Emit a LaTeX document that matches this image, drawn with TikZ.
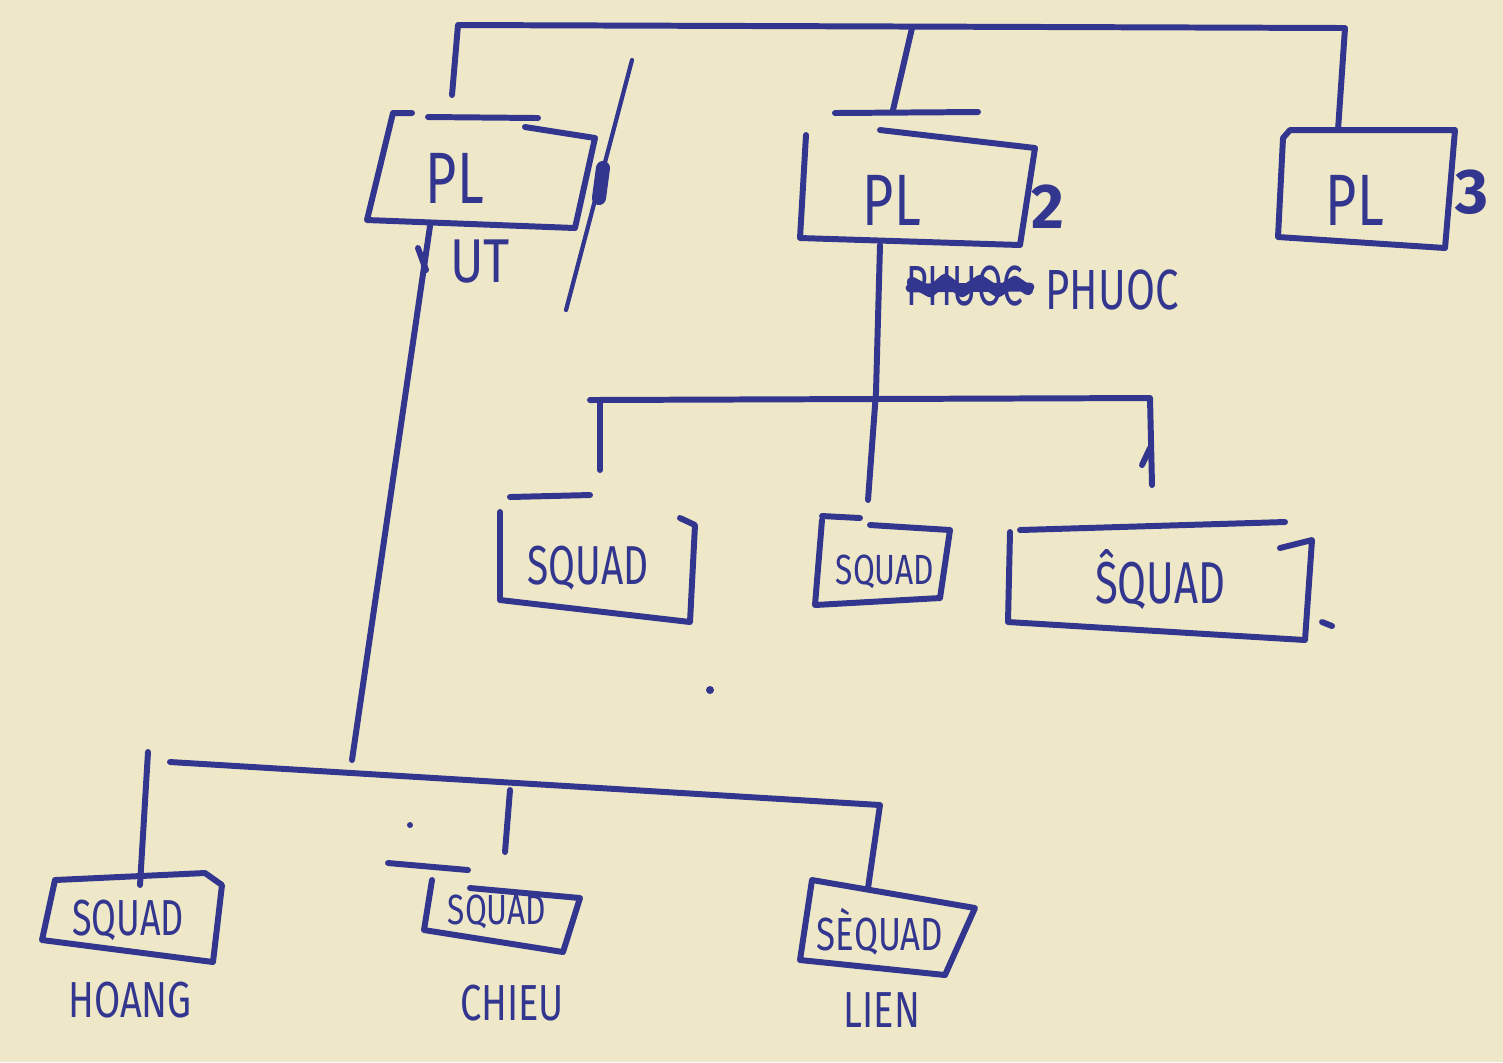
\documentclass[tikz,border=0pt]{standalone}
\usepackage{graphicx}
\usepackage{fontspec}
\setmainfont{Fira Sans}
\definecolor{paper}{HTML}{EFE8C8}
\definecolor{inkc}{HTML}{33368F}
\begin{document}
\begin{tikzpicture}[x=0.01cm,y=-0.01cm,
  ink/.style={draw=inkc,line width=1.7pt,line cap=round,line join=round},
  txt/.style={text=inkc,inner sep=0pt,font=\fontsize{#1}{#1}\selectfont},
  txt/.default=16]
\fill[paper] (0,0) rectangle (1503,1062);
\useasboundingbox (0,0) rectangle (1503,1062);

% ---------- top level ----------
\coordinate (tL) at (458,25);
\coordinate (tM) at (912,28);
\coordinate (tR) at (1345,28);
\coordinate (pl1top) at (452,95);
\coordinate (pl2top) at (893,110);
\coordinate (pl3top) at (1338,130);
\draw[ink] (pl1top) -- (tL) -- (tR) -- (pl3top);
\draw[ink] (tM) -- (pl2top);

% PL1
\draw[ink] (428,117) -- (538,118);
\draw[ink] (412,113) -- (393,113) -- (367,220) -- (575,228) -- (595,138) -- (525,127);
\node[txt=18] (pl1) at (455,178) {\scalebox{0.85}[1.15]{PL}};
\coordinate (diagA) at (632,60);
\coordinate (diagB) at (566,310);
\draw[ink,line width=1.2pt] (diagA) -- (diagB);
\draw[ink,line width=4pt] (603,168) -- (599,198);
\coordinate (pl1bot) at (430,226);
\coordinate (utbar) at (352,760);
\draw[ink] (pl1bot) -- (utbar);
\draw[ink] (418,248) -- (426,270);
\node[txt=16] (ut) at (480,262) {\scalebox{0.9}[1.1]{UT}};

% PL2
\draw[ink] (835,113) -- (978,112);
\draw[ink] (806,135) -- (800,238) -- (1020,245) -- (1035,148) -- (880,130);
\node[txt=18] (pl2) at (892,200) {\scalebox{0.85}[1.15]{PL}};
\node[txt=18] (n2) at (1048,207) {\textbf{2}};
\coordinate (pl2bot) at (880,245);
\coordinate (sqbar) at (876,392);
\draw[ink] (pl2bot) -- (sqbar);
\node[txt=14] (phuoc) at (1112,290) {\scalebox{0.85}[1.15]{PHUOC}};
\node[txt=14] (cross) at (965,286) {\scalebox{0.75}[1.15]{PHUOC}};
\draw[ink,line width=3pt] (912,282) -- (930,292) -- (945,279) -- (962,292) -- (980,280) -- (998,292) -- (1015,281) -- (1028,290);
\draw[ink,line width=2.5pt] (910,288) -- (1030,287);

% PL3
\draw[ink] (1290,130) -- (1455,130) -- (1445,248) -- (1278,237) -- (1283,138) -- cycle;
\node[txt=18] (pl3) at (1355,200) {\scalebox{0.85}[1.15]{PL}};
\node[txt=18] (n3) at (1472,192) {\textbf{3}};

% ---------- PL2 squads ----------
\coordinate (sb1) at (590,400);
\coordinate (sb3) at (1150,398);
\coordinate (s1top) at (600,470);
\coordinate (s2top) at (868,500);
\coordinate (s3top) at (1152,485);
\draw[ink] (s1top) -- (600,400);
\draw[ink] (sb1) -- (sb3) -- (s3top);
\draw[ink] (1142,465) -- (1150,448);
\draw[ink] (sqbar) -- (s2top);

% squad 1
\draw[ink] (510,497) -- (590,495);
\draw[ink] (500,512) -- (500,600) -- (690,622) -- (695,525) -- (680,518);
\node[txt=13] (sq1) at (588,568) {\scalebox{0.85}[1.2]{SQUAD}};
% squad 2
\draw[ink] (822,516) -- (860,518);
\draw[ink] (822,520) -- (815,605) -- (940,598) -- (950,530) -- (870,525);
\node[txt=10] (sq2) at (885,572) {\scalebox{0.9}[1.2]{SQUAD}};
% squad 3
\draw[ink] (1020,530) -- (1285,522);
\draw[ink] (1010,532) -- (1008,622) -- (1305,640) -- (1312,540) -- (1280,548);
\draw[ink] (1322,622) -- (1332,626);
\node[txt=14] (sq3) at (1160,580) {\scalebox{0.85}[1.2]{ŜQUAD}};

% dots
\fill[inkc] (710,690) circle (4);
\fill[inkc] (410,825) circle (3);

% ---------- UT squads ----------
\coordinate (ubL) at (170,762);
\coordinate (ubR) at (880,805);
\coordinate (b1bar) at (148,752);
\coordinate (b1top) at (140,885);
\coordinate (b2bar) at (510,790);
\coordinate (b2top) at (505,852);
\coordinate (b3top) at (868,888);
\draw[ink] (ubL) -- (ubR) -- (b3top);
\draw[ink] (b1bar) -- (b1top);
\draw[ink] (b2bar) -- (b2top);

% bottom squad 1
\draw[ink] (55,880) -- (205,873) -- (222,885) -- (213,962) -- (42,940) -- cycle;
\node[txt=12] (bs1) at (128,920) {\scalebox{0.85}[1.2]{SQUAD}};
\node[txt=12] (hoang) at (130,1000) {\scalebox{0.9}[1.2]{HOANG}};
% bottom squad 2
\draw[ink] (388,863) -- (468,870);
\draw[ink] (432,880) -- (424,930) -- (563,952) -- (580,898) -- (470,888);
\node[txt=10] (bs2) at (497,912) {\scalebox{0.9}[1.2]{SQUAD}};
\node[txt=12] (chieu) at (512,1003) {\scalebox{0.9}[1.2]{CHIEU}};
% bottom squad 3
\draw[ink] (812,880) -- (975,908) -- (945,975) -- (800,960) -- cycle;
\node[txt=11] (bs3) at (880,932) {\scalebox{0.9}[1.2]{SÈQUAD}};
\node[txt=12] (lien) at (882,1010) {\scalebox{0.9}[1.2]{LIEN}};
\end{tikzpicture}
\end{document}
